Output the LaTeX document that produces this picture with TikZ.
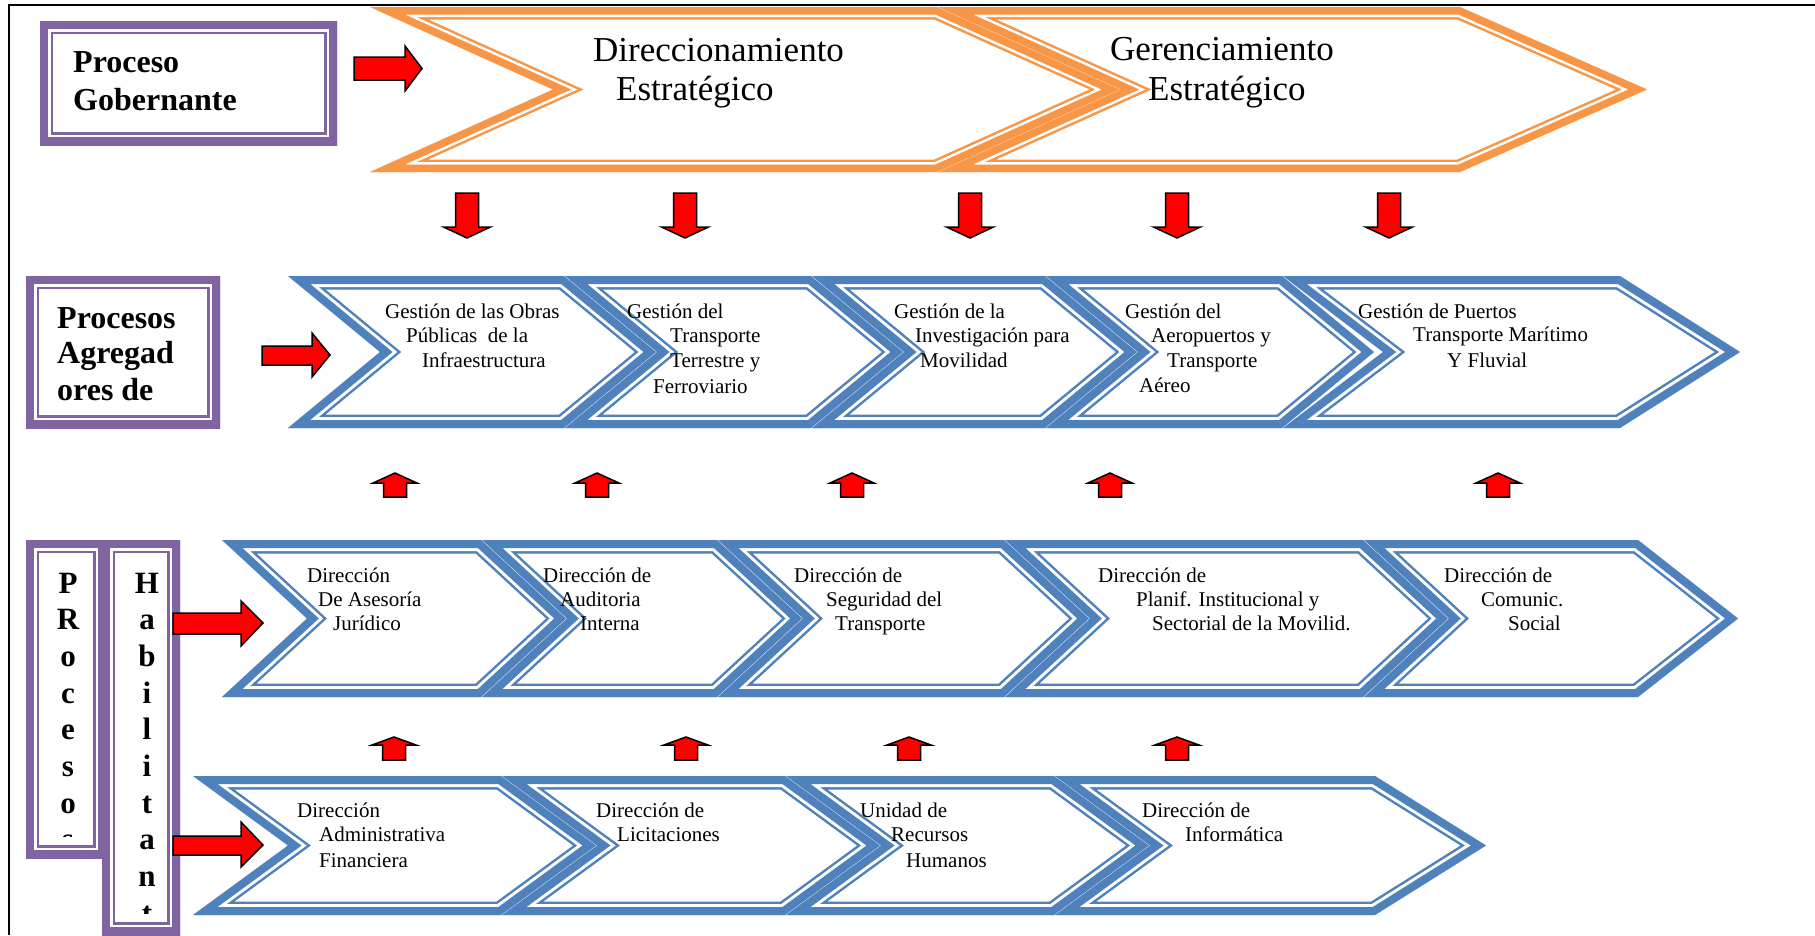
\documentclass[tikz,border=0pt]{standalone}
\usepackage{fontspec}
\setmainfont{Liberation Serif}
\definecolor{orng}{RGB}{247,150,70}
\definecolor{blu}{RGB}{79,129,189}
\definecolor{purp}{RGB}{128,100,162}
\tikzset{
  obands/.style={fill=white, line join=miter, miter limit=20,
     postaction={draw=orng, line width=25pt},
     postaction={draw=white, line width=20pt},
     postaction={draw=orng, line width=15pt}},
  bbands/.style={fill=white, line join=miter, miter limit=20,
     postaction={draw=blu, line width=27pt},
     postaction={draw=white, line width=22pt},
     postaction={draw=blu, line width=16pt}},
  pbands/.style={fill=white, line join=miter,
     postaction={draw=purp, line width=26pt},
     postaction={draw=white, line width=21pt},
     postaction={draw=purp, line width=16pt}},
  blk/.style={fill=red, draw=black, line width=1.5pt, line join=miter},
  gt/.style={font=\fontsize{21}{25}\selectfont, inner sep=0pt, anchor=base west},
  ot/.style={font=\fontsize{35}{40}\selectfont, inner sep=0pt, anchor=base west},
  bt/.style={font=\bfseries\fontsize{32}{36}\selectfont, inner sep=0pt, anchor=base west},
  vt/.style={font=\bfseries\fontsize{31}{36}\selectfont, inner sep=0pt, anchor=base},
}
% chevron: L R T B notchdepth tipdepth style
\newcommand{\chev}[7]{%
 \begin{scope}
  \clip (#1,#3) -- (#2,#3) -- ({#2+#6},{(#3+#4)/2}) -- (#2,#4) -- (#1,#4) -- ({#1+#5},{(#3+#4)/2}) -- cycle;
  \path[#7] (#1,#3) -- (#2,#3) -- ({#2+#6},{(#3+#4)/2}) -- (#2,#4) -- (#1,#4) -- ({#1+#5},{(#3+#4)/2}) -- cycle;
 \end{scope}}
% framed box: x1 y1 x2 y2
\newcommand{\pbox}[4]{%
 \begin{scope}
  \clip (#1,#2) rectangle (#3,#4);
  \path[pbands] (#1,#2) rectangle (#3,#4);
 \end{scope}}
% right arrow: x0 xs xt ys1 ys2 yh1 yh2 ytip
\newcommand{\rarr}[8]{\draw[blk] (#1,#4) -- (#2,#4) -- (#2,#6) -- (#3,#8) -- (#2,#7) -- (#2,#5) -- (#1,#5) -- cycle;}
% down arrow: cx top headbase tip
\newcommand{\darr}[4]{\draw[blk] ({#1-11.5},#2) -- ({#1+11.5},#2) -- ({#1+11.5},#3) -- ({#1+23.5},#3) -- (#1,#4) -- ({#1-23.5},#3) -- ({#1-11.5},#3) -- cycle;}
% up arrow: cx tip headbase bottom
\newcommand{\uarr}[4]{\draw[blk] ({#1-11.5},#4) -- ({#1+11.5},#4) -- ({#1+11.5},#3) -- ({#1+22},#3) -- (#1,#2) -- ({#1-22},#3) -- ({#1-11.5},#3) -- cycle;}
\newcommand{\tl}[5]{\node[#4] (#1) at (#2,#3) {#5};}
\begin{document}
\begin{tikzpicture}[x=1pt,y=-1pt]
\useasboundingbox (0,0) rectangle (1815,935);
% frame
\draw[line width=2.5pt] (9,935) -- (9,5) -- (1815,5);
% purple boxes
\pbox{40}{21}{337}{145}
\pbox{26}{276}{220}{428}
\pbox{26}{540}{106}{858}
\pbox{102}{540}{180}{935}
% orange row
\chev{370}{937}{7}{172}{183}{183}{obands}
\chev{938}{1460}{7}{172}{183}{187}{obands}
% blue row 1
\chev{288}{564}{276}{428}{92}{92}{bbands}
\chev{565}{811}{276}{428}{92}{92}{bbands}
\chev{812}{1045}{276}{428}{92}{92}{bbands}
\chev{1046}{1282}{276}{428}{92}{92}{bbands}
\chev{1283}{1620}{276}{428}{100}{120}{bbands}
% blue row 2
\chev{222}{481}{540}{697}{85}{85}{bbands}
\chev{482}{717}{540}{697}{85}{85}{bbands}
\chev{718}{1004}{540}{697}{85}{85}{bbands}
\chev{1005}{1363}{540}{697}{85}{85}{bbands}
\chev{1364}{1638}{540}{697}{85}{100}{bbands}
% blue row 3
\chev{193}{501}{776}{915}{95}{95}{bbands}
\chev{502}{785}{776}{915}{95}{95}{bbands}
\chev{786}{1054}{776}{915}{95}{95}{bbands}
\chev{1055}{1375}{776}{915}{95}{111}{bbands}
% right arrows
\rarr{354}{405}{422}{57}{80}{46}{91}{68.5}
\rarr{262}{312}{330}{346}{365}{333}{377}{355}
\rarr{173}{241}{263}{613}{634}{601}{646}{623}
\rarr{173}{241}{263}{836}{855}{822}{867}{845}
% down arrows
\foreach \cx in {467,685,970,1177,1389} {\darr{\cx}{193}{227}{238}}
% up arrows
\foreach \cx in {395,597,852,1110,1498} {\uarr{\cx}{473}{483}{497}}
\foreach \cx in {394,686,909,1177} {\uarr{\cx}{737}{745}{760}}
% vertical letters
\begin{scope}
 \clip (36,552) rectangle (96,836.8);
 \foreach \ch [count=\k from 0] in {P,R,o,c,e,s,o,s}
   {\node[vt] (pv\k) at (68,{593+36.7*\k}) {\ch};}
\end{scope}
\begin{scope}
 \clip (113,552) rectangle (170,913);
 \foreach \ch [count=\k from 0] in {H,a,b,i,l,i,t,a,n,t}
   {\node[vt] (hv\k) at (147,{593+36.7*\k}) {\ch};}
\end{scope}
% labels
\tl{g1}{73}{72}{bt}{Proceso}
\tl{g2}{73}{110}{bt}{Gobernante}
\tl{a1}{57}{328}{bt}{Procesos}
\tl{a2}{57}{363}{bt}{Agregad}
\tl{a3}{57}{400}{bt}{ores de}
% orange text
\tl{o1a}{593}{61}{ot}{Direccionamiento}
\tl{o1b}{616}{100}{ot}{Estratégico}
\tl{o2a}{1110}{60}{ot}{Gerenciamiento}
\tl{o2b}{1148}{100}{ot}{Estratégico}
% row 1 text
\tl{r1a1}{385}{318}{gt}{Gestión de las Obras}
\tl{r1a2}{406}{342}{gt}{Públicas\ \ de la}
\tl{r1a3}{422}{367}{gt}{Infraestructura}
\tl{r1b1}{627}{318}{gt}{Gestión del}
\tl{r1b2}{670}{342}{gt}{Transporte}
\tl{r1b3}{670}{367}{gt}{Terrestre y}
\tl{r1b4}{653}{393}{gt}{Ferroviario}
\tl{r1c1}{894}{318}{gt}{Gestión de la}
\tl{r1c2}{915}{342}{gt}{Investigación para}
\tl{r1c3}{920}{367}{gt}{Movilidad}
\tl{r1d1}{1125}{318}{gt}{Gestión del}
\tl{r1d2}{1151}{342}{gt}{Aeropuertos y}
\tl{r1d3}{1167}{367}{gt}{Transporte}
\tl{r1d4}{1139}{392}{gt}{Aéreo}
\tl{r1e1}{1358}{318}{gt}{Gestión de Puertos}
\tl{r1e2}{1413}{341}{gt}{Transporte Marítimo}
\tl{r1e3}{1447}{367}{gt}{Y Fluvial}
% row 2 text
\tl{r2a1}{307}{582}{gt}{Dirección}
\tl{r2a2}{318}{606}{gt}{De Asesoría}
\tl{r2a3}{333}{630}{gt}{Jurídico}
\tl{r2b1}{543}{582}{gt}{Dirección de}
\tl{r2b2}{560}{606}{gt}{Auditoria}
\tl{r2b3}{580}{630}{gt}{Interna}
\tl{r2c1}{794}{582}{gt}{Dirección de}
\tl{r2c2}{826}{606}{gt}{Seguridad del}
\tl{r2c3}{835}{630}{gt}{Transporte}
\tl{r2d1}{1098}{582}{gt}{Dirección de}
\tl{r2d2}{1136}{606}{gt}{Planif. Institucional y}
\tl{r2d3}{1152}{630}{gt}{Sectorial de la Movilid.}
\tl{r2e1}{1444}{582}{gt}{Dirección de}
\tl{r2e2}{1481}{606}{gt}{Comunic.}
\tl{r2e3}{1508}{630}{gt}{Social}
% row 3 text
\tl{r3a1}{297}{817}{gt}{Dirección}
\tl{r3a2}{319}{841}{gt}{Administrativa}
\tl{r3a3}{319}{867}{gt}{Financiera}
\tl{r3b1}{596}{817}{gt}{Dirección de}
\tl{r3b2}{617}{841}{gt}{Licitaciones}
\tl{r3c1}{860}{817}{gt}{Unidad de}
\tl{r3c2}{891}{841}{gt}{Recursos}
\tl{r3c3}{906}{867}{gt}{Humanos}
\tl{r3d1}{1142}{817}{gt}{Dirección de}
\tl{r3d2}{1185}{841}{gt}{Informática}
\end{tikzpicture}
\end{document}
